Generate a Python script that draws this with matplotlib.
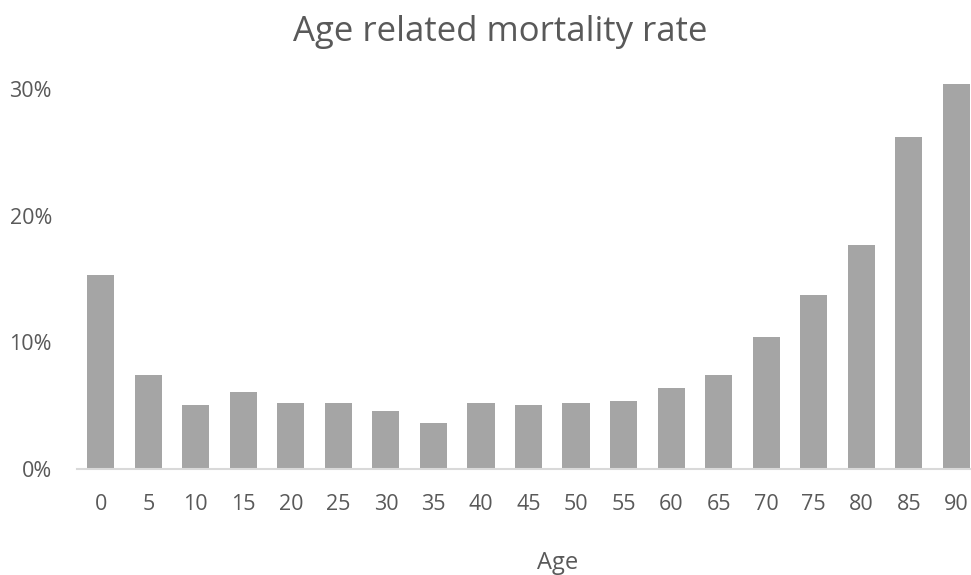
"""Bar chart of mortality rate by age group."""

import matplotlib
matplotlib.use('Agg')
import matplotlib.pyplot as plt
from matplotlib.ticker import FuncFormatter

AGES = [0, 5, 10, 15, 20, 25, 30, 35, 40, 45, 50, 55, 60, 65, 70, 75, 80, 85, 90]
RATES = [15.3, 7.4, 5.05, 6.05, 5.2, 5.2, 4.6, 3.6, 5.2, 5.05,
         5.2, 5.4, 6.4, 7.4, 10.45, 13.7, 17.65, 26.2, 30.4]  # percent
Y_TICKS = [0, 10, 20, 30]

BAR_COLOR = '#a5a5a5'
TEXT_COLOR = '#595959'
AXIS_COLOR = '#d9d9d9'

plt.rcParams['font.family'] = ['Open Sans', 'DejaVu Sans']

fig = plt.figure(figsize=(9.71, 5.75), dpi=100)
# plot area runs a little past the right edge of the canvas
ax = fig.add_axes((0.0793, 0.1843, 0.930, 0.683))

xs = list(range(len(AGES)))
ax.bar(xs, RATES, width=0.57, color=BAR_COLOR, zorder=2)

ax.set_xlim(-0.5, len(AGES) - 0.5)
ax.set_ylim(0, 31)
ax.set_xticks(xs)
ax.set_xticklabels([str(a) for a in AGES])
ax.set_yticks(Y_TICKS)
ax.yaxis.set_major_formatter(FuncFormatter(lambda v, _: f'{v:.0f}%'))

for side in ('top', 'right', 'left'):
    ax.spines[side].set_visible(False)
ax.spines['bottom'].set_color(AXIS_COLOR)
ax.spines['bottom'].set_linewidth(1.5)
ax.spines['bottom'].set_zorder(3)

ax.tick_params(axis='x', length=0, pad=18, labelsize=15.5, labelcolor=TEXT_COLOR)
ax.tick_params(axis='y', length=0, pad=18, labelsize=15.5, labelcolor=TEXT_COLOR)

fig.text(500 / 971, 1 - 32 / 575, 'Age related mortality rate', ha='center',
         va='center', fontsize=25, color=TEXT_COLOR)
fig.text(558 / 971, 1 - 563 / 575, 'Age', ha='center', va='center',
         fontsize=17, color=TEXT_COLOR)

fig.savefig('out.png', dpi=100)
